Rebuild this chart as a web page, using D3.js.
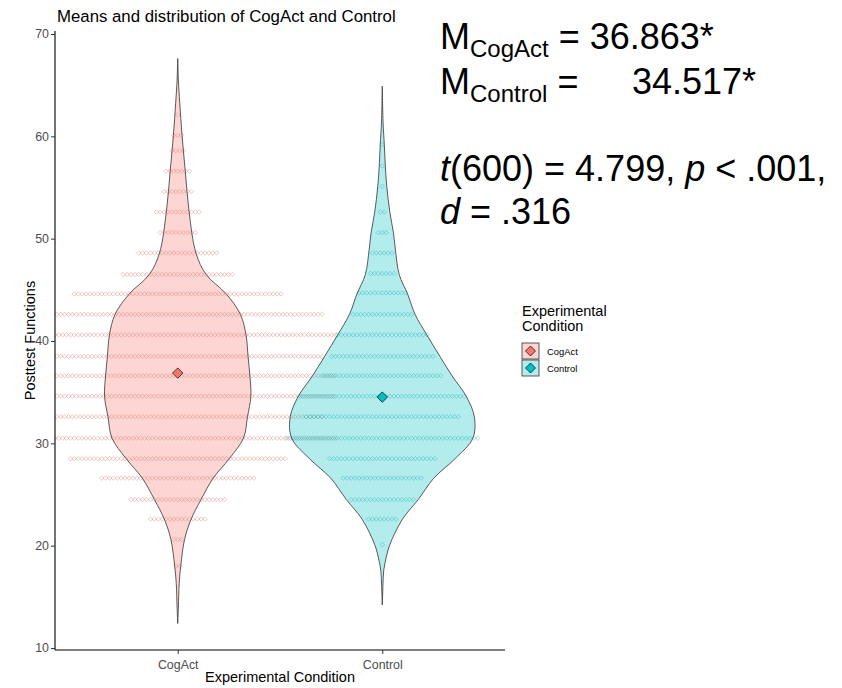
<!DOCTYPE html>
<html>
<head>
<meta charset="utf-8">
<script src="https://cdn.jsdelivr.net/npm/d3@7"></script>
<style>
  html, body { margin: 0; padding: 0; background: #fff; }
  svg { display: block; font-family: "Liberation Sans", Arial, sans-serif; }
</style>
</head>
<body>
<svg id="chart" width="842" height="688"></svg>
<script>
// ---- data ----
const conditions = ["CogAct", "Control"];
const condColors = ["#F8766D", "#00BFC4"];
const means = [36.863, 34.517];
const yTicks = [10, 20, 30, 40, 50, 60, 70];

// violin outlines: score values and relative density (1 = widest point)
const cogactDensityY = [67.6, 65.5, 63.3, 60.1, 56.6, 52.6, 48.6, 46.5, 44.6, 42.6, 40.6, 38.5, 36.6, 34.6, 32.6, 30.5, 28.5, 26.6, 24.5, 22.6, 20.6, 18.0, 16.3, 14.0, 12.4];
const cogactDensity  = [0, 0.007, 0.022, 0.047, 0.082, 0.124, 0.198, 0.308, 0.527, 0.681, 0.742, 0.764, 0.784, 0.795, 0.758, 0.714, 0.560, 0.385, 0.253, 0.146, 0.074, 0.033, 0.016, 0.007, 0];
const controlDensityY = [64.9, 61.3, 59.2, 57.1, 55.1, 52.6, 50.6, 48.9, 46.5, 44.6, 42.6, 40.6, 38.5, 36.6, 34.6, 32.6, 30.5, 28.5, 26.6, 24.5, 22.6, 20.1, 18.9, 17.6, 16.0, 14.2];
const controlDensity  = [0, 0.009, 0.022, 0.033, 0.049, 0.082, 0.121, 0.143, 0.184, 0.275, 0.357, 0.484, 0.626, 0.758, 0.912, 1.0, 0.984, 0.791, 0.560, 0.390, 0.220, 0.082, 0.044, 0.016, 0.007, 0];

// stacked dot rows: bin centre and number of participants in the bin
const cogactBins   = [62.1, 60.1, 58.6, 56.6, 54.6, 52.6, 50.6, 48.6, 46.5, 44.6, 42.6, 40.6, 38.5, 36.6, 34.6, 32.6, 30.5, 28.5, 26.6, 24.5, 22.6, 20.6, 18.0];
const cogactCounts = [1, 3, 4, 7, 8, 12, 10, 21, 29, 54, 75, 82, 75, 81, 81, 75, 82, 56, 40, 25, 15, 3, 2];
const controlBins   = [59.2, 57.1, 55.1, 52.6, 50.6, 48.6, 46.6, 44.7, 42.6, 40.6, 38.5, 36.6, 34.6, 32.6, 30.5, 28.5, 26.6, 24.5, 22.6, 20.1];
const controlCounts = [1, 1, 1, 2, 3, 6, 7, 13, 16, 24, 27, 31, 43, 40, 50, 28, 21, 17, 8, 1];

// ---- layout ----
const svg = d3.select("#chart");
const panel = { left: 55, right: 505, top: 31, bottom: 650 };

const x = d3.scalePoint().domain(conditions).range([panel.left, panel.right]).padding(0.6);
const y = d3.scaleLinear().domain([10, 70]).range([648, 34]);
const color = d3.scaleOrdinal().domain(conditions).range(condColors);
const violinHalf = d3.scaleLinear().domain([0, 1]).range([0, 0.45 * x.step()]);

const violins = [
  { cond: "CogAct", ys: cogactDensityY, ds: cogactDensity },
  { cond: "Control", ys: controlDensityY, ds: controlDensity }
];
const dotGroups = [
  { cond: "CogAct", bins: cogactBins, counts: cogactCounts },
  { cond: "Control", bins: controlBins, counts: controlCounts }
];

svg.append("defs").append("clipPath").attr("id", "panel-clip")
  .append("rect")
  .attr("x", panel.left).attr("y", panel.top)
  .attr("width", panel.right - panel.left).attr("height", panel.bottom - panel.top);

const plot = svg.append("g").attr("clip-path", "url(#panel-clip)");

// small open diamond used for individual participants
const diamondPath = r => `M0,${-r}L${r},0L0,${r}L${-r},0Z`;
const dotStep = 3.9;

dotGroups.forEach(g => {
  const cx = x(g.cond);
  const pts = [];
  g.bins.forEach((b, i) => {
    const n = g.counts[i];
    for (let k = 0; k < n; k++) pts.push({ v: b, off: (k - (n - 1) / 2) * dotStep });
  });
  plot.append("g").selectAll("path").data(pts).join("path")
    .attr("d", diamondPath(2.2))
    .attr("transform", d => `translate(${cx + d.off},${y(d.v)})`)
    .attr("fill", "none")
    .attr("stroke", d3.color(color(g.cond)).darker(0.5))
    .attr("stroke-opacity", 0.38)
    .attr("stroke-width", 0.9);
});

// violins
violins.forEach(v => {
  const cx = x(v.cond);
  const rows = v.ys.map((val, i) => ({ v: val, d: v.ds[i] }));
  const area = d3.area()
    .y(d => y(d.v))
    .x0(d => cx - violinHalf(d.d))
    .x1(d => cx + violinHalf(d.d))
    .curve(d3.curveCatmullRom.alpha(0.5));
  plot.append("path")
    .datum(rows)
    .attr("d", area)
    .attr("fill", color(v.cond))
    .attr("fill-opacity", 0.3)
    .attr("stroke", "#333")
    .attr("stroke-width", 0.8);
});

// group means
plot.append("g").selectAll("path").data(conditions).join("path")
  .attr("d", diamondPath(5.2))
  .attr("transform", (c, i) => `translate(${x(c)},${y(means[i])})`)
  .attr("fill", c => color(c))
  .attr("stroke", "#000")
  .attr("stroke-width", 0.7);

// ---- axes ----
const yAxis = svg.append("g").attr("transform", `translate(${panel.left},0)`)
  .call(d3.axisLeft(y).tickValues(yTicks).tickSize(4).tickPadding(2));
yAxis.select(".domain").attr("d", `M0,${panel.top}V${panel.bottom}`).attr("stroke", "#000").attr("stroke-width", 1.1);

const xAxis = svg.append("g").attr("transform", `translate(0,${panel.bottom})`)
  .call(d3.axisBottom(x).tickSize(4).tickPadding(3));
xAxis.select(".domain").attr("d", `M${panel.left},0H${panel.right}`).attr("stroke", "#000").attr("stroke-width", 1.1);

[yAxis, xAxis].forEach(a => {
  a.selectAll(".tick line").attr("stroke", "#333");
  a.selectAll(".tick text").attr("fill", "#4D4D4D").attr("font-size", 12.4)
    .attr("font-family", "Liberation Sans, Arial, sans-serif");
});
xAxis.selectAll(".tick text").attr("dy", "0.95em");

// titles
svg.append("text").attr("x", 57).attr("y", 22)
  .attr("font-size", 16.8).attr("fill", "#000")
  .text("Means and distribution of CogAct and Control");

svg.append("text").attr("x", (panel.left + panel.right) / 2).attr("y", 682)
  .attr("text-anchor", "middle").attr("font-size", 14.5).attr("fill", "#000")
  .text("Experimental Condition");

svg.append("text")
  .attr("transform", `translate(35,${(panel.top + panel.bottom) / 2}) rotate(-90)`)
  .attr("text-anchor", "middle").attr("font-size", 14.5).attr("fill", "#000")
  .text("Posttest Functions");

// ---- legend ----
const legend = svg.append("g").attr("transform", "translate(522,0)");
legend.append("text").attr("y", 316).attr("font-size", 14.5).text("Experimental");
legend.append("text").attr("y", 331).attr("font-size", 14.5).text("Condition");
conditions.forEach((c, i) => {
  const top = 343 + i * 17;
  legend.append("rect").attr("x", 0).attr("y", top).attr("width", 17).attr("height", 16)
    .attr("fill", color(c)).attr("fill-opacity", 0.3)
    .attr("stroke", "#333").attr("stroke-width", 0.8);
  legend.append("path").attr("d", diamondPath(5))
    .attr("transform", `translate(8.5,${top + 8})`)
    .attr("fill", color(c)).attr("stroke", "#000").attr("stroke-width", 0.7);
  legend.append("text").attr("x", 25).attr("y", top + 12).attr("font-size", 9.4).text(c);
});

// ---- statistics annotation ----
const note = svg.append("g").attr("fill", "#000");
const l1 = note.append("text").attr("x", 440).attr("y", 49).attr("font-size", 36);
l1.append("tspan").text("M");
l1.append("tspan").attr("font-size", 24).attr("dy", 8).text("CogAct");
l1.append("tspan").attr("dy", -8).text(` = ${means[0].toFixed(3)}*`);

const l2 = note.append("text").attr("x", 440).attr("y", 94).attr("font-size", 36);
l2.append("tspan").text("M");
l2.append("tspan").attr("font-size", 24).attr("dy", 8).text("Control");
l2.append("tspan").attr("dy", -8).text(" =");
l2.append("tspan").attr("x", 632).text(`${means[1].toFixed(3)}*`);

const l3 = note.append("text").attr("x", 440).attr("y", 181).attr("font-size", 36);
l3.append("tspan").attr("font-style", "italic").text("t");
l3.append("tspan").text("(600) = 4.799, ");
l3.append("tspan").attr("font-style", "italic").text("p");
l3.append("tspan").text(" < .001,");

const l4 = note.append("text").attr("x", 440).attr("y", 224).attr("font-size", 36);
l4.append("tspan").attr("font-style", "italic").text("d");
l4.append("tspan").text(" = .316");
</script>
</body>
</html>
